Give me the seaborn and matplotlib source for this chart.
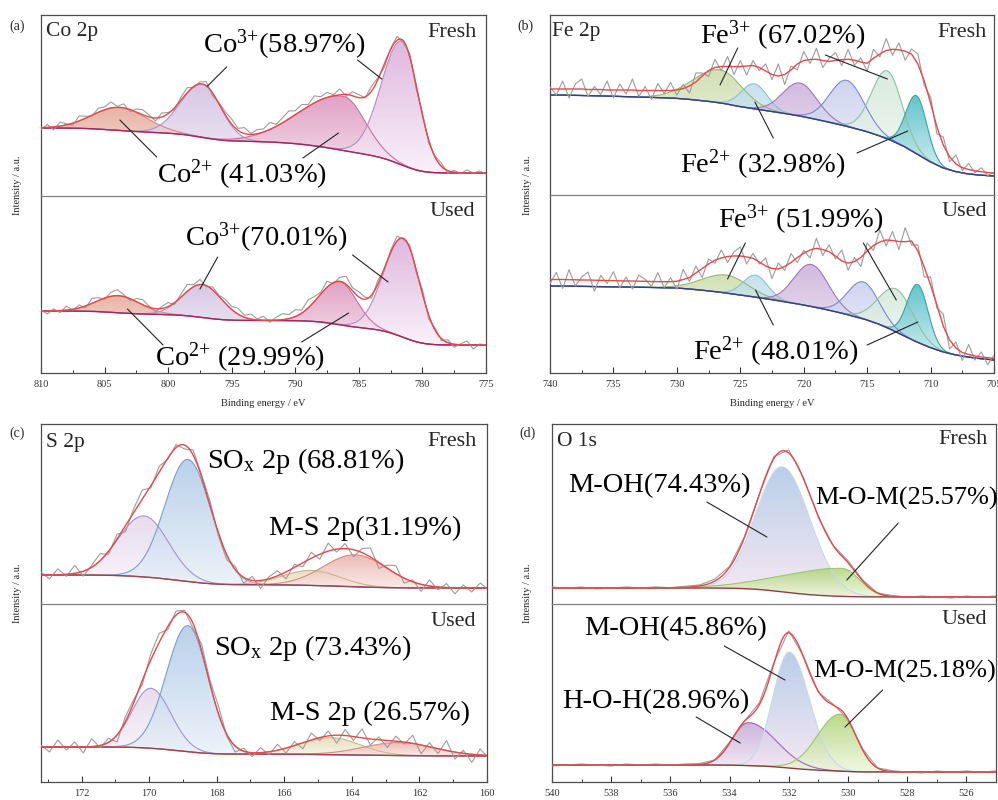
import numpy as np
import matplotlib
matplotlib.use("Agg")
import matplotlib.pyplot as plt
from matplotlib.colors import LinearSegmentedColormap
from matplotlib.ticker import MultipleLocator
import seaborn as sns

# ====================== DATA ======================
# ---- Co 2p ----
co_xlim = [810, 775]
co_fresh_center = [803.8, 797.3, 786.2, 781.6]
co_fresh_height = [23, 53, 54, 124]
co_fresh_fwhm_hi = [5.0, 4.0, 8.0, 3.8]
co_fresh_fwhm_lo = [5.0, 3.4, 4.0, 3.0]
co_fresh_bg_ends = [68, 23]
co_fresh_resid = [-2, 3, -3, 4, 1, -2, 5, 2, -1, 4, 3, 6, 1, 4, -2, 3, 5, 2, -3, 4,
                  1, -2, 3, 5, -1, 2, 4, -3, 1, 3, 5, 2, 6, 1, 4, 3, 7, 2, 5, 8,
                  4, 6, 2, 7, 3, 5, 1, 6, -2, 4, 3, -1, 5, 2, -3, 1, 4, -2, 3, -4,
                  2, -3, 1, 3, -2, 2, -1, 3, 0, 2, -1]
co_used_center = [803.9, 797.3, 786.5, 781.5]
co_used_height = [17, 33, 43, 99]
co_used_fwhm_hi = [4.0, 3.6, 3.8, 3.6]
co_used_fwhm_lo = [4.0, 3.6, 3.2, 3.0]
co_used_bg_ends = [62, 28]
co_used_resid = [1, -3, 2, -2, 4, -1, 3, -2, 5, 3, -1, 4, 6, 2, -2, 3, 5, 1, -3, 2,
                 4, -2, 3, 7, 2, 5, -1, 3, 1, 4, 3, 6, 2, 5, 1, 4, -2, 3, 6, 4,
                 7, 3, 8, 5, 2, 6, -1, 4, 8, 3, 5, 2, -3, 4, -2, 2, 5, -1, 3, -3,
                 4, -4, 2, -2, 3, -3, 1, 4, -4, 1, 0]

# ---- Fe 2p ----
fe_xlim = [740, 705]
fe_fresh_center = [726.6, 723.9, 720.3, 716.6, 713.4, 711.1]
fe_fresh_height = [33, 25, 33, 46, 68, 58]
fe_fresh_fwhm_hi = [5.0, 2.4, 3.2, 3.2, 2.9, 2.0]
fe_fresh_fwhm_lo = [4.0, 2.4, 3.2, 3.2, 2.7, 1.9]
# background read at 1 eV steps from 740 down to 705
fe_fresh_background = [100, 99.9, 99.7, 99.4, 99.1, 98.8, 98.4, 98, 97.6, 97.2,
                       96.7, 95.6, 94.3, 92.9, 90.9, 88.3, 86.4, 84.5, 82.5, 80.5,
                       78.3, 75.6, 72.8, 69.9, 66.7, 63.3, 59, 54, 48, 40.5,
                       33, 27, 23.3, 21, 19.7, 19]
fe_fresh_envelope = [106, 106, 106, 106, 106, 106, 105.5, 105.5, 105.5, 105, 105, 105, 105, 105,
                     104.5, 104.5, 104.5, 104.5, 104.5, 104.5,
                     105, 106.5, 109, 113, 119, 124.5, 127.5, 128.5, 128.5, 128.3,
                     128.5, 129, 129.5, 127.5, 124, 120.5, 119, 120.5, 125, 131,
                     134.5, 135.5, 135.7, 134.5, 133.5, 134.5, 135.3, 135.7, 134.8, 133,
                     131.7, 136.7, 141, 144.5, 145.7, 145.2, 143.8, 141, 131, 114,
                     92, 68, 50, 38.3, 31, 27.3, 25.5, 24.2, 23.3, 22.5, 21.7]
fe_fresh_resid = [2, -6, 8, -9, 5, 10, -7, 3, -5, 9, -8, 6, -4, 11, -6, 4, -9, 7, -3, 8,
                  -5, 4, -7, 9, 3, -6, 8, -4, 10, -8, 6, -9, 5, -3, 7, -5, 12, -10, 4, -6,
                  9, -4, 11, -7, 3, 8, -6, 10, -5, 4, -8, 9, -3, 12, -6, 7, -9, 5, 10, -4,
                  6, -7, 8, -5, 9, -3, 6, -2, 4, -3, 1]
fe_used_center = [726.1, 723.8, 719.4, 715.3, 712.7, 711.0]
fe_used_height = [18, 22, 42, 37, 43, 58]
fe_used_fwhm_hi = [4.5, 2.3, 3.2, 2.9, 3.3, 2.0]
fe_used_fwhm_lo = [4.0, 2.3, 3.2, 2.9, 3.1, 1.9]
fe_used_background = [87, 86.9, 86.8, 86.6, 86.4, 86.2, 86, 85.8, 85.6, 85.3,
                      85, 84, 82.8, 81.4, 79.8, 78, 76.2, 74.3, 72.3, 70.2,
                      68, 65.5, 62.8, 59.8, 56.5, 53, 48.5, 42.8, 36.5, 30.5,
                      25.3, 21, 18, 15.8, 14.2, 13]
fe_used_envelope = [93.5, 93.5, 93.5, 93.3, 93.2, 93, 93, 92.8, 92.6, 92.5, 92.3, 92.2, 92, 92,
                    91.8, 91.7, 91.5, 91.4, 91.3, 91.3,
                    91.8, 93.5, 95.5, 100, 104.5, 109, 112.8, 115, 116.5, 117,
                    117, 116, 114.7, 111, 107, 104.5, 104, 106.5, 110.5, 115.5,
                    119.7, 123, 124.7, 123.5, 121.3, 117, 112, 109.8, 111.5, 115.5,
                    122, 127.5, 131, 133, 132.5, 131.5, 131.3, 132, 122, 106,
                    88, 68, 47, 33, 25, 20.5, 18.5, 17, 16, 15.3, 14.7]
fe_used_resid = [-4, 7, -9, 10, -6, 3, 8, -11, 5, -3, 9, -7, 4, -8, 6, 2, -5, 9, -6, 4,
                 -8, 10, -4, 7, -9, 5, -3, 8, -6, 4, 9, -7, 5, -2, 8, -10, 6, -4, 9, -5,
                 3, -8, 10, -6, 7, -3, 11, -7, 4, -9, 8, -5, 12, -6, 9, -8, 14, -4, 6, -10,
                 8, -3, 12, -9, 6, -8, 10, -4, 5, -7, 3]

# ---- S 2p ----
s_xlim = [173.2, 160]
s_fresh_center = [170.15, 168.85, 165.2, 163.9]
s_fresh_height = [61, 122, 15, 32]
s_fresh_fwhm_hi = [1.8, 1.6, 2.0, 2.2]
s_fresh_fwhm_lo = [1.7, 1.6, 2.0, 2.2]
s_fresh_bg_ends = [29, 16]
s_fresh_resid = [3, -4, 6, -2, 8, -5, 2, 7, -3, 5, -6, 4, 9, -2, 6, -1, 3, -4, 5, 2,
                 4, -3, -5, 3, -6, 4, -8, 2, 5, -7, 3, -4, 6, -5, 8, -3, 5, -7, 4, 9,
                 -6, 3, 8, -5, 2, -7, 6, -3, 4, -6, 3, -4, 5, -2]
s_used_center = [169.95, 168.85, 164.6, 162.6]
s_used_height = [60, 126, 17, 13]
s_used_fwhm_hi = [1.3, 1.5, 2.2, 2.5]
s_used_fwhm_lo = [1.4, 1.4, 2.0, 2.5]
s_used_bg_ends = [35, 26]
s_used_resid = [2, -5, 7, -3, 5, -6, 8, -2, 4, -7, 5, 3, -4, 6, 9, -3, 4, 2, -5, 6,
                3, 8, -2, -6, 3, -4, 5, -3, 6, -5, 4, -6, 7, -3, 5, -8, 6, -4, 9, -6,
                3, -7, 5, -2, 8, -9, 4, -5, 10, -7, 3, -8, 6, -3]

# ---- O 1s ----
o_xlim = [540, 525]
o_fresh_center = [532.22, 530.2]
o_fresh_height = [125, 28]
o_fresh_fwhm_hi = [2.1, 4.5]
o_fresh_fwhm_lo = [2.2, 1.4]
o_fresh_bg_ends = [16, 7]
o_fresh_resid = [1, 0, 1, -1, 0, 1, 0, 1, 0, 1, 1, 2, 1, 1, 0, 2, 3, 1, -1, 0,
                 2, 1, 0, 1, 0, 1, 0, -1, 1, 0, 1]
o_used_center = [533.36, 531.98, 530.27]
o_used_height = [43, 116, 57]
o_used_fwhm_hi = [1.3, 1.3, 1.8]
o_used_fwhm_lo = [2.2, 1.6, 1.3]
o_used_bg_ends = [17, 10]
o_used_resid = [-1, 0, 1, 0, -1, 1, 0, 1, 0, 1, 1, 0, 1, 0, 2, 1, 2, 1, -1, 1,
                0, 1, 0, 1, 0, -1, 1, 0, 1, 0, 1]

# ====================== STYLE ======================
sns.set_theme(style="ticks")
plt.rcParams["font.family"] = ["Liberation Serif", "DejaVu Serif"]
plt.rcParams["mathtext.fontset"] = "custom"
plt.rcParams["mathtext.rm"] = "Liberation Serif"
plt.rcParams["mathtext.it"] = "Liberation Serif:italic"
plt.rcParams["mathtext.bf"] = "Liberation Serif:bold"

co_tops = ["#e3a08e", "#cdb9de", "#d98ab5", "#d7a6d6"]
co_bots = ["#f6e2dc", "#f1ebf6", "#f3d9e8", "#f9eef9"]
co_edges = ["#d9887a", "#a996cc", "#c9709e", "#b48bc8"]
fe_tops = ["#c9d9a6", "#b9dbe8", "#c7a9d6", "#c4caec", "#cfe6d6", "#3fb5bd"]
fe_bots = ["#f1f5e4", "#eef7fb", "#f1eaf6", "#eff1fb", "#f2f9f4", "#cdeef0"]
fe_edges = ["#97b872", "#86c2da", "#9d78bd", "#7d88cf", "#8dc0a2", "#3aa3aa"]
s_tops = ["#e2d4ea", "#a9c5e5", "#e0d6ae", "#e7aaa2"]
s_bots = ["#f8f2f9", "#e9f1f9", "#f8f5e8", "#f9e6e3"]
s_edges = ["#a394cc", "#7d9ccf", "#cdb687", "#d98a80"]
o_fresh_tops = ["#a8c3e3", "#a9d16f"]
o_fresh_bots = ["#f6e3f1", "#eef6dd"]
o_fresh_edges = ["#c8d8ec", "#9cc86a"]
o_used_tops = ["#bfa0d2", "#a8c3e3", "#a9d16f"]
o_used_bots = ["#f3ecf7", "#f6e3f1", "#eef6dd"]
o_used_edges = ["#9a6ab8", "#c8d8ec", "#9cc86a"]

ENV_COLOR = "#e8474a"
RAW_COLOR = "#9c9c9c"
LABEL_FS = 20.5

W, H = 998, 800
fig = plt.figure(figsize=(W / 100, H / 100), dpi=100)


def make_axes(left, right, top, mid, bottom):
    a1 = fig.add_axes([left / W, (H - mid) / H, (right - left) / W, (mid - top) / H])
    a2 = fig.add_axes([left / W, (H - bottom) / H, (right - left) / W, (bottom - mid) / H])
    for a in (a1, a2):
        a.patch.set_alpha(0)
        for sp in a.spines.values():
            sp.set_color("#4d4d4d")
            sp.set_linewidth(0.9)
    a1.spines["bottom"].set_visible(False)
    a2.spines["top"].set_color("#808080")
    return a1, a2, mid - top, bottom - mid


def peak(E, c, h, whi, wlo):
    w = np.where(E >= c, whi, wlo)
    s = w / 2.3548
    return h * np.exp(-0.5 * ((E - c) / s) ** 2)


def grad_fill(ax, x, y0, y1, ctop, cbot, z):
    poly = ax.fill_between(x, y0, y1, facecolor="none", edgecolor="none")
    cmap = LinearSegmentedColormap.from_list("g", [cbot, ctop])
    grad = np.linspace(0, 1, 256).reshape(-1, 1)
    im = ax.imshow(grad, extent=[x.min(), x.max(), y0.min(), y1.max()], origin="lower",
                   aspect="auto", cmap=cmap, alpha=0.8, zorder=z, interpolation="bilinear")
    im.set_clip_path(poly.get_paths()[0], transform=ax.transData)


def draw(ax, xlim, ylim_top, centers, heights, fhi, flo, bg_ends, tops, bots, edges,
         bg_color, resid, step, envelope=None, background=None):
    E = np.linspace(min(xlim), max(xlim), 1500)
    comps = [peak(E, c, h, a, b) for c, h, a, b in zip(centers, heights, fhi, flo)]
    total = np.sum(comps, axis=0)
    if background is None:
        cum = np.concatenate([[0], np.cumsum((total[1:] + total[:-1]) / 2 * np.diff(E))])
        bg = bg_ends[1] + (bg_ends[0] - bg_ends[1]) * cum / cum[-1]
    else:
        bgE = max(xlim) - np.arange(len(background))
        bg = np.interp(E, bgE[::-1], np.array(background, dtype=float)[::-1])
    for i, comp in enumerate(comps):
        grad_fill(ax, E, bg, bg + comp, tops[i], bots[i], 1 + i * 0.01)
        sns.lineplot(x=E, y=bg + comp, ax=ax, color=edges[i], linewidth=0.8,
                     estimator=None, sort=False, legend=False, zorder=2)
    sns.lineplot(x=E, y=bg, ax=ax, color=bg_color, linewidth=1.0,
                 estimator=None, sort=False, legend=False, zorder=3)
    grid = max(xlim) - step * np.arange(len(resid))
    if envelope is None:
        env_pts = np.interp(grid, E, bg + total)
        env_x, env_y = E, bg + total
    else:
        env_pts = np.array(envelope, dtype=float)
        env_x, env_y = grid, env_pts
    raw = env_pts + np.array(resid, dtype=float)
    sns.lineplot(x=grid, y=raw, ax=ax, color=RAW_COLOR, linewidth=0.8,
                 estimator=None, sort=False, legend=False, zorder=4)
    sns.lineplot(x=env_x, y=env_y, ax=ax, color=ENV_COLOR, linewidth=1.0,
                 estimator=None, sort=False, legend=False, zorder=5)
    ax.set_xlim(xlim[0], xlim[1])
    ax.set_ylim(0, ylim_top)
    ax.set_xlabel("")
    ax.set_ylabel("")


def finish(a1, a2, major, minor):
    a1.set_xticks([])
    a1.set_yticks([])
    a2.set_yticks([])
    a2.xaxis.set_major_locator(MultipleLocator(major))
    a2.xaxis.set_minor_locator(MultipleLocator(minor))
    a2.tick_params(axis="x", which="major", direction="in", length=4, width=0.8,
                   labelsize=7.5, pad=5, colors="#333333", top=False)
    a2.tick_params(axis="x", which="minor", direction="in", length=2.2, width=0.7,
                   colors="#333333", top=False)
    a1.tick_params(axis="x", which="both", bottom=False, top=False)


def label(ax, x, y, s, fs=LABEL_FS):
    ax.text(x, y, s, ha="left", va="baseline", fontsize=fs, color="black", zorder=10)


def leader(ax, p1, p2):
    ax.annotate("", xy=p2, xytext=p1,
                arrowprops=dict(arrowstyle="-", color="#222222", lw=0.8, shrinkA=0, shrinkB=0),
                zorder=9)


def corner_texts(a1, a2, title, fx1, fy1, fx2, fy2, tx, ty):
    a1.text(fx1, fy1, "Fresh", transform=a1.transAxes, ha="right", va="top", fontsize=16)
    a2.text(fx2, fy2, "Used", transform=a2.transAxes, ha="right", va="top", fontsize=16)
    a1.text(tx, ty, title, transform=a1.transAxes, ha="left", va="top", fontsize=15.5)


SUP3 = "$^{3{+}}$"
SUP2 = "$^{2{+}}$"
SUBX = "$_{\\mathrm{x}}$"

# ---------------- (a) Co 2p ----------------
a1, a2, h1, h2 = make_axes(41, 486, 15, 196, 373)
draw(a1, co_xlim, h1, co_fresh_center, co_fresh_height, co_fresh_fwhm_hi, co_fresh_fwhm_lo,
     co_fresh_bg_ends, co_tops, co_bots, co_edges, "#a8245a", co_fresh_resid, 0.5)
draw(a2, co_xlim, h2, co_used_center, co_used_height, co_used_fwhm_hi, co_used_fwhm_lo,
     co_used_bg_ends, co_tops, co_bots, co_edges, "#a8245a", co_used_resid, 0.5)
finish(a1, a2, 5, 2.5)
corner_texts(a1, a2, "Co 2p", 0.98, 0.956, 0.976, 0.966, 0.011, 0.963)
label(a1, 797.25, 143, "Co" + SUP3 + "(58.97%)")
label(a1, 800.87, 13, "Co" + SUP2 + " (41.03%)")
leader(a1, (795.4, 129), (796.9, 110)); leader(a1, (785.1, 136), (783.2, 117))
leader(a1, (800.9, 39), (803.8, 76)); leader(a1, (789.4, 38), (786.6, 63))
label(a2, 798.67, 127, "Co" + SUP3 + "(70.01%)")
label(a2, 801.03, 7, "Co" + SUP2 + " (29.99%)")
leader(a2, (796.1, 116), (797.5, 84)); leader(a2, (785.5, 118), (782.7, 91))
leader(a2, (800.4, 28), (803.2, 64)); leader(a2, (789.5, 31), (785.8, 60))

# ---------------- (b) Fe 2p ----------------
b1, b2, h1, h2 = make_axes(550, 994, 15, 195, 373)
draw(b1, fe_xlim, h1, fe_fresh_center, fe_fresh_height, fe_fresh_fwhm_hi, fe_fresh_fwhm_lo,
     None, fe_tops, fe_bots, fe_edges, "#3c3c8c", fe_fresh_resid, 0.5,
     envelope=fe_fresh_envelope, background=fe_fresh_background)
draw(b2, fe_xlim, h2, fe_used_center, fe_used_height, fe_used_fwhm_hi, fe_used_fwhm_lo,
     None, fe_tops, fe_bots, fe_edges, "#3c3c8c", fe_used_resid, 0.5,
     envelope=fe_used_envelope, background=fe_used_background)
finish(b1, b2, 5, 2.5)
corner_texts(b1, b2, "Fe 2p", 0.984, 0.956, 0.984, 0.96, 0.005, 0.963)
label(b1, 728.18, 151, "Fe" + SUP3 + " (67.02%)")
label(b1, 729.76, 22, "Fe" + SUP2 + " (32.98%)")
leader(b1, (725.2, 147), (726.6, 110)); leader(b1, (718.3, 140), (713.4, 116))
leader(b1, (722.4, 57), (723.85, 93)); leader(b1, (715.8, 42), (711.8, 64))
label(b2, 726.76, 145, "Fe" + SUP3 + " (51.99%)")
label(b2, 728.73, 13, "Fe" + SUP2 + " (48.01%)")
leader(b2, (724.6, 130), (726.0, 94)); leader(b2, (715.3, 130), (712.7, 73))
leader(b2, (722.4, 48), (723.8, 83)); leader(b2, (715.0, 28), (711.0, 51))

# ---------------- (c) S 2p ----------------
c1, c2, h1, h2 = make_axes(41, 487, 424, 604, 782)
draw(c1, s_xlim, h1, s_fresh_center, s_fresh_height, s_fresh_fwhm_hi, s_fresh_fwhm_lo,
     s_fresh_bg_ends, s_tops, s_bots, s_edges, "#a04050", s_fresh_resid, 0.25)
draw(c2, s_xlim, h2, s_used_center, s_used_height, s_used_fwhm_hi, s_used_fwhm_lo,
     s_used_bg_ends, s_tops, s_bots, s_edges, "#a04050", s_used_resid, 0.25)
finish(c1, c2, 2, 1)
corner_texts(c1, c2, "S 2p", 0.977, 0.956, 0.975, 0.955, 0.011, 0.95)
label(c1, 168.28, 136, "SO" + SUBX + " 2p (68.81%)")
label(c1, 166.44, 69, "M-S 2p(31.19%)")
label(c2, 168.08, 127, "SO" + SUBX + " 2p (73.43%)")
label(c2, 166.41, 62, "M-S 2p (26.57%)")

# ---------------- (d) O 1s ----------------
d1, d2, h1, h2 = make_axes(552, 996, 424, 604, 782)
draw(d1, o_xlim, h1, o_fresh_center, o_fresh_height, o_fresh_fwhm_hi, o_fresh_fwhm_lo,
     o_fresh_bg_ends, o_fresh_tops, o_fresh_bots, o_fresh_edges, "#8a4040", o_fresh_resid, 0.5)
draw(d2, o_xlim, h2, o_used_center, o_used_height, o_used_fwhm_hi, o_used_fwhm_lo,
     o_used_bg_ends, o_used_tops, o_used_bots, o_used_edges, "#8a4040", o_used_resid, 0.5)
finish(d1, d2, 2, 1)
corner_texts(d1, d2, "O 1s", 0.982, 0.967, 0.98, 0.966, 0.011, 0.955)
label(d1, 539.44, 112, "M-OH(74.43%)")
label(d1, 531.11, 99, "M-O-M(25.57%)", fs=19)
leader(d1, (534.77, 102), (532.74, 67)); leader(d1, (528.30, 81), (530.04, 24))
label(d2, 538.93, 147, "M-OH(45.86%)")
label(d2, 531.17, 104, "M-O-M(25.18%)", fs=19)
label(d2, 539.66, 74, "H-O-H(28.96%)")
leader(d2, (534.18, 136), (532.13, 102)); leader(d2, (528.83, 92), (530.10, 55))
leader(d2, (535.13, 65), (533.64, 39))

# ---------------- figure texts ----------------
for (px, py, s) in [(9, 26, "(a)"), (517, 26, "(b)"), (9, 433, "(c)"), (519, 433, "(d)")]:
    fig.text(px / W, 1 - py / H, s, ha="left", va="center", fontsize=10)
for (px, py) in [(18, 185), (528, 185), (18, 593), (528, 593)]:
    fig.text(px / W, 1 - py / H, "Intensity / a.u.", rotation=90, ha="center", va="center",
             fontsize=7.5)
for (px, py) in [(263, 403), (772, 403)]:
    fig.text(px / W, 1 - py / H, "Binding energy / eV", ha="center", va="center", fontsize=7.5)

fig.savefig("out.png", dpi=100)
